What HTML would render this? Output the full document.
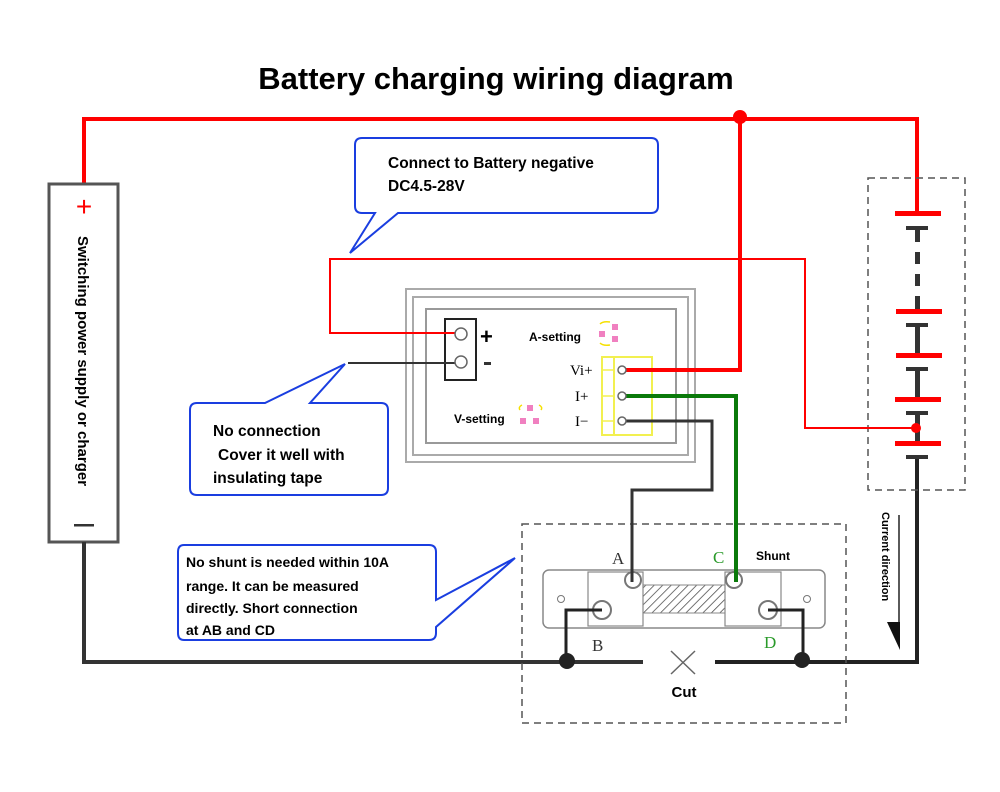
<!DOCTYPE html>
<html><head><meta charset="utf-8"><style>
html,body{margin:0;padding:0;background:#fff}
svg{display:block}
text{font-family:"Liberation Sans","DejaVu Sans",sans-serif}
.b{font-weight:bold}
</style></head><body>
<svg width="1000" height="792" viewBox="0 0 1000 792" xmlns="http://www.w3.org/2000/svg">
<text x="496" y="89" text-anchor="middle" class="b" font-size="31">Battery charging wiring diagram</text>

<!-- meter -->
<rect x="406" y="289" width="289" height="173" fill="#fff" stroke="#aaa" stroke-width="2"/>
<rect x="413" y="297" width="275" height="158" fill="none" stroke="#aaa" stroke-width="2"/>
<rect x="426" y="309" width="250" height="134" fill="none" stroke="#999" stroke-width="2"/>
<rect x="445" y="319" width="31" height="61" fill="#fff" stroke="#222" stroke-width="2"/>
<text x="480" y="344" class="b" font-size="22">+</text>
<rect x="484" y="362" width="7" height="3" fill="#333"/>
<text x="529" y="341" class="b" font-size="12">A-setting</text>
<text x="454" y="423" class="b" font-size="12">V-setting</text>
<g fill="#f080c0">
<rect x="599" y="331" width="6" height="6"/><rect x="612" y="324" width="6" height="6"/><rect x="612" y="336" width="6" height="6"/>
<rect x="527" y="405" width="6" height="6"/><rect x="520" y="418" width="6" height="6"/><rect x="533" y="418" width="6" height="6"/>
</g>
<path d="M600,324 q3,-3 10,-2 M600,343 q3,3 10,2 M520,410 q-2,-3 2,-5 M541,410 q2,-3 -2,-5" stroke="#f5e000" stroke-width="1.5" fill="none"/>
<rect x="602" y="357" width="50" height="78" fill="none" stroke="#f2f050" stroke-width="2"/>
<line x1="614" y1="357" x2="614" y2="435" stroke="#f2f050" stroke-width="2"/>
<g stroke="#f2f050" stroke-width="1.5"><line x1="602" y1="370" x2="614" y2="370"/><line x1="602" y1="396" x2="614" y2="396"/><line x1="602" y1="421" x2="614" y2="421"/></g>
<text x="570" y="375" style="font-family:'Liberation Serif',serif" font-size="15">Vi+</text>
<text x="575" y="401" style="font-family:'Liberation Serif',serif" font-size="15">I+</text>
<text x="575" y="426" style="font-family:'Liberation Serif',serif" font-size="15">I−</text>

<!-- top red wire -->
<polyline points="84,183 84,119 917,119 917,213" fill="none" stroke="#f00" stroke-width="4"/>
<circle cx="740" cy="117" r="7" fill="#f00"/>
<polyline points="740,117 740,370 622,370" fill="none" stroke="#f00" stroke-width="4"/>

<!-- power supply box -->
<rect x="49" y="184" width="69" height="358" fill="#fff" stroke="#555" stroke-width="3"/>
<text x="84" y="216" text-anchor="middle" fill="#f00" font-size="28">+</text>
<rect x="74" y="524" width="20" height="2.5" fill="#333"/>
<text transform="translate(78,236) rotate(90)" class="b" font-size="15">Switching power supply or charger</text>

<!-- bottom black wire -->
<polyline points="84,542 84,662 643,662" fill="none" stroke="#333" stroke-width="4"/>
<polyline points="715,662 917,662 917,457" fill="none" stroke="#222" stroke-width="4"/>
<path d="M671,651 L695,674 M695,651 L671,674" stroke="#666" stroke-width="1.5"/>
<text x="684" y="697" text-anchor="middle" class="b" font-size="15">Cut</text>

<!-- battery dashed box -->
<rect x="868" y="178" width="97" height="312" fill="none" stroke="#555" stroke-width="1.5" stroke-dasharray="7,5"/>
<g fill="#f00">
<rect x="895" y="211" width="46" height="5"/>
<rect x="896" y="309" width="46" height="5"/>
<rect x="896" y="353" width="46" height="5"/>
<rect x="895" y="397" width="46" height="5"/>
<rect x="895" y="441" width="46" height="5"/>
</g>
<g fill="#333">
<rect x="906" y="226" width="22" height="4"/><rect x="915" y="230" width="5" height="12"/>
<rect x="915" y="252" width="5" height="12"/><rect x="915" y="274" width="5" height="12"/><rect x="915" y="296" width="5" height="13"/>
<rect x="906" y="323" width="22" height="4"/><rect x="915" y="327" width="5" height="26"/>
<rect x="906" y="367" width="22" height="4"/><rect x="915" y="371" width="5" height="26"/>
<rect x="906" y="411" width="22" height="4"/><rect x="915" y="415" width="5" height="26"/>
<rect x="906" y="455" width="22" height="4"/>
</g>
<text transform="translate(882,512) rotate(90)" class="b" font-size="11">Current direction</text>
<line x1="899" y1="515" x2="899" y2="630" stroke="#222" stroke-width="1.5"/>
<polygon points="887,622 900,622 900,650" fill="#111"/>

<!-- red sense wire -->
<polyline points="461,333 330,333 330,259 805,259 805,428 917,428" fill="none" stroke="#f00" stroke-width="2"/>
<circle cx="916" cy="428" r="5" fill="#f00"/>
<line x1="461" y1="363" x2="348" y2="363" stroke="#333" stroke-width="2"/>
<circle cx="461" cy="334" r="6" fill="#fff" stroke="#666" stroke-width="1.5"/>
<circle cx="461" cy="362" r="6" fill="#fff" stroke="#666" stroke-width="1.5"/>

<!-- green -->
<polyline points="622,396 736,396 736,580" fill="none" stroke="#0a7a0a" stroke-width="4"/>
<!-- dark I- -->
<polyline points="622,421 712,421 712,490 632,490 632,580" fill="none" stroke="#333" stroke-width="3"/>
<circle cx="622" cy="370" r="4" fill="#fff" stroke="#666" stroke-width="1.5"/>
<circle cx="622" cy="396" r="4" fill="#fff" stroke="#666" stroke-width="1.5"/>
<circle cx="622" cy="421" r="4" fill="#fff" stroke="#666" stroke-width="1.5"/>

<!-- shunt dashed box -->
<rect x="522" y="524" width="324" height="199" fill="none" stroke="#555" stroke-width="1.5" stroke-dasharray="7,5"/>
<rect x="543" y="570" width="282" height="58" rx="6" fill="#fff" stroke="#888" stroke-width="1.5"/>
<rect x="588" y="572" width="55" height="54" fill="#fff" stroke="#888" stroke-width="1.2"/>
<rect x="725" y="572" width="56" height="54" fill="#fff" stroke="#888" stroke-width="1.2"/>
<defs><pattern id="h" width="6" height="6" patternUnits="userSpaceOnUse" patternTransform="rotate(45)"><line x1="0" y1="0" x2="0" y2="6" stroke="#444" stroke-width="1.5"/></pattern></defs>
<rect x="643" y="585" width="82" height="28" fill="url(#h)" stroke="#888"/>
<circle cx="561" cy="599" r="3.5" fill="none" stroke="#777"/>
<circle cx="807" cy="599" r="3.5" fill="none" stroke="#777"/>
<g fill="#fff" stroke="#777" stroke-width="2">
<circle cx="633" cy="580" r="8"/><circle cx="734" cy="580" r="8"/><circle cx="602" cy="610" r="9"/><circle cx="768" cy="610" r="9"/>
</g>
<line x1="632" y1="490" x2="632" y2="582" stroke="#333" stroke-width="3"/>
<line x1="736" y1="500" x2="736" y2="582" stroke="#0a7a0a" stroke-width="4"/>
<polyline points="602,610 566,610 566,660" fill="none" stroke="#222" stroke-width="3"/>
<polyline points="768,610 803,610 803,660" fill="none" stroke="#222" stroke-width="3"/>
<circle cx="567" cy="661" r="8" fill="#222"/>
<circle cx="802" cy="660" r="8" fill="#222"/>
<text x="612" y="564" style="font-family:'Liberation Serif',serif" font-size="17" fill="#333">A</text>
<text x="713" y="563" style="font-family:'Liberation Serif',serif" font-size="17" fill="#2a9a2a">C</text>
<text x="756" y="560" class="b" font-size="12">Shunt</text>
<text x="592" y="651" style="font-family:'Liberation Serif',serif" font-size="17" fill="#333">B</text>
<text x="764" y="648" style="font-family:'Liberation Serif',serif" font-size="17" fill="#2a9a2a">D</text>

<!-- callouts -->
<path d="M362,138 L651,138 Q658,138 658,145 L658,206 Q658,213 651,213 L398,213 L350,253 L375,213 L362,213 Q355,213 355,206 L355,145 Q355,138 362,138 Z" fill="#fff" stroke="#1a3ee0" stroke-width="2"/>
<text x="388" y="168" class="b" font-size="15.5">Connect to Battery negative</text>
<text x="388" y="191" class="b" font-size="15.5">DC4.5-28V</text>

<path d="M197,403 L265,403 L345,364 L310,403 L381,403 Q388,403 388,410 L388,488 Q388,495 381,495 L197,495 Q190,495 190,488 L190,410 Q190,403 197,403 Z" fill="#fff" stroke="#1a3ee0" stroke-width="2"/>
<text x="213" y="436" class="b" font-size="15.5">No connection</text>
<text x="218" y="460" class="b" font-size="15.5">Cover it well with</text>
<text x="213" y="483" class="b" font-size="15.5">insulating tape</text>

<path d="M184,545 L429,545 Q436,545 436,552 L436,600 L515,558 L436,627 L436,633 Q436,640 429,640 L184,640 Q178,640 178,633 L178,552 Q178,545 184,545 Z" fill="#fff" stroke="#1a3ee0" stroke-width="2"/>
<text x="186" y="567" class="b" font-size="14">No shunt is needed within 10A</text>
<text x="186" y="591" class="b" font-size="14">range. It can be measured</text>
<text x="186" y="613" class="b" font-size="14">directly. Short connection</text>
<text x="186" y="635" class="b" font-size="14">at AB and CD</text>
</svg>
</body></html>
